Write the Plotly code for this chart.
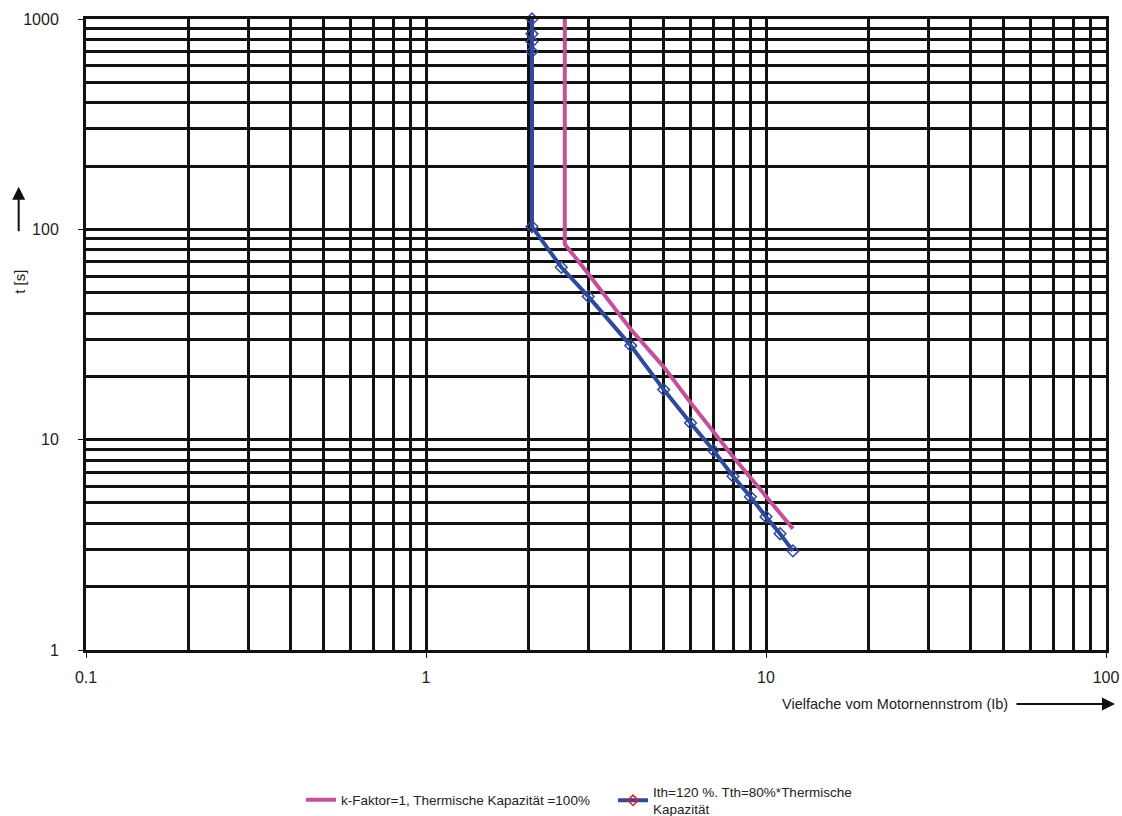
import plotly.graph_objects as go

# Data
pink_x = [2.56, 2.56, 3, 4, 5, 6, 8, 10, 12]
pink_t = [1000, 85, 61.5, 33.5, 22.2, 15.0, 8.3, 5.35, 3.77]

blue_x = [2.05, 2.05, 2.05, 2.05, 2.05, 2.5, 3, 4, 5, 6, 7, 8, 9, 10, 11, 12]
blue_t = [1000, 850, 780, 700, 103, 66, 48, 28, 17.3, 12.0, 8.9, 6.7, 5.35, 4.3, 3.57, 2.96]

x_major = [0.1, 1, 10, 100]
x_major_text = ["0.1", "1", "10", "100"]
y_major = [1, 10, 100, 1000]
y_major_text = ["1", "10", "100", "1000"]
x_minor = [m * d for d in (0.1, 1, 10) for m in range(2, 10)]
y_minor = [m * d for d in (1, 10, 100) for m in range(2, 10)]

legend_pink = "k-Faktor=1, Thermische Kapazität =100%"
legend_blue = "Ith=120 %. Tth=80%*Thermische<br>Kapazität"

PINK = "#C4509A"
BLUE = "#2F4A9C"
FONT = "Arial, Liberation Sans, sans-serif"

fig = go.Figure()
fig.add_trace(go.Scatter(x=pink_x, y=pink_t, mode="lines",
                         line=dict(color=PINK, width=4), name=legend_pink,
                         legend="legend"))
fig.add_trace(go.Scatter(x=blue_x, y=blue_t, mode="lines+markers",
                         line=dict(color=BLUE, width=4),
                         marker=dict(symbol="diamond-open", size=9, color=BLUE,
                                     line=dict(width=1.5, color=BLUE)),
                         showlegend=False, cliponaxis=False))
fig.add_trace(go.Scatter(x=[None], y=[None], mode="lines+markers",
                         line=dict(color=BLUE, width=4),
                         marker=dict(symbol="diamond-open", size=8, color="#E02020",
                                     line=dict(width=1.5, color="#E02020")),
                         name=legend_blue, legend="legend2"))

axis_common = dict(
    type="log", showgrid=True, gridcolor="#111111", gridwidth=3,
    showline=True, linecolor="#111111", linewidth=3, mirror=True,
    ticks="outside", ticklen=5, tickcolor="#111111", tickwidth=1,
    tickfont=dict(family=FONT, size=16, color="#222"),
    zeroline=False, automargin=False,
)

fig.update_xaxes(**axis_common, range=[-1, 2], tickmode="array",
                 tickvals=x_major, ticktext=x_major_text,
                 ticklabelstandoff=6,
                 minor=dict(tickmode="array", tickvals=x_minor, showgrid=True,
                            gridcolor="#111111", gridwidth=3, ticks=""))
fig.update_yaxes(**axis_common, range=[0, 3], tickmode="array",
                 tickvals=y_major, ticktext=y_major_text,
                 ticklabelstandoff=16,
                 minor=dict(tickmode="array", tickvals=y_minor, showgrid=True,
                            gridcolor="#111111", gridwidth=3, ticks=""))

legend_font = dict(family=FONT, size=13.5, color="#222")
fig.update_layout(
    width=1122, height=816,
    margin=dict(l=86, r=16, t=19, b=166, autoexpand=False),
    paper_bgcolor="white", plot_bgcolor="white",
    font=dict(family=FONT, color="#222"),
    legend=dict(orientation="h", x=0.2108, y=-0.2377, xanchor="left", yanchor="middle",
                font=legend_font, bgcolor="rgba(0,0,0,0)"),
    legend2=dict(orientation="h", x=0.5167, y=-0.239, xanchor="left", yanchor="middle",
                 font=legend_font, bgcolor="rgba(0,0,0,0)"),
    annotations=[
        dict(text="t [s]", xref="paper", yref="paper", x=-0.066, y=0.583,
             xanchor="center", yanchor="middle",
             textangle=-90, showarrow=False, font=dict(family=FONT, size=15, color="#222")),
        dict(text="", xref="paper", yref="paper", x=-0.066, y=0.734,
             ax=0, ay=46, showarrow=True, arrowhead=2, arrowsize=1.3,
             arrowwidth=2, arrowcolor="#111"),
        dict(text="Vielfache vom Motornennstrom (Ib)", xref="paper", yref="paper",
             x=0.906, y=-0.0856, xanchor="right", yanchor="middle",
             showarrow=False, font=dict(family=FONT, size=14.5, color="#222")),
        dict(text="", xref="paper", yref="paper", x=1.0088, y=-0.0856,
             ax=-100, ay=0, showarrow=True, arrowhead=2, arrowsize=1.3,
             arrowwidth=2, arrowcolor="#111"),
    ],
)

fig.write_html("out.html", config={"displayModeBar": False},
               post_script="document.body.style.margin='0';document.body.style.overflow='hidden';")
